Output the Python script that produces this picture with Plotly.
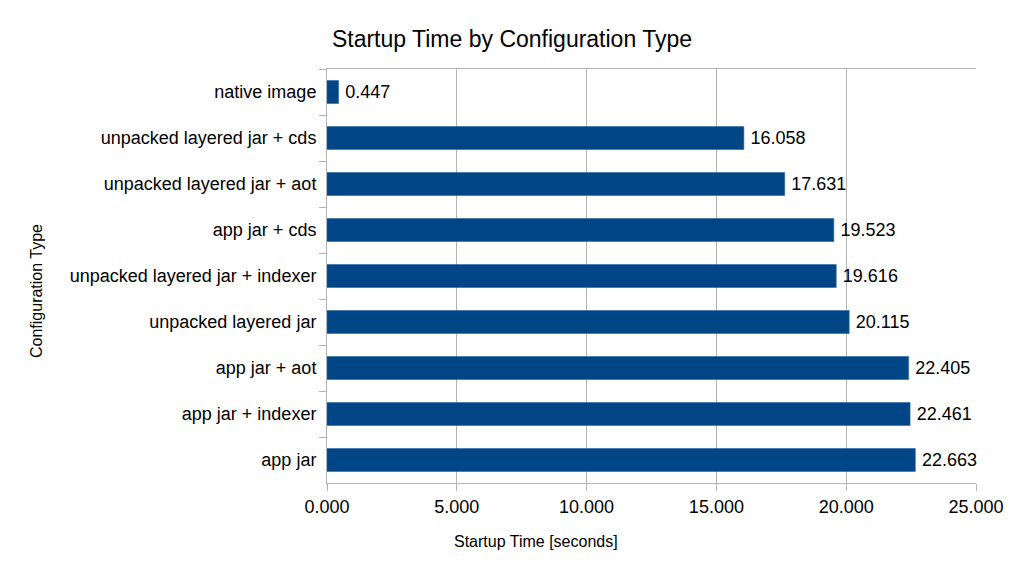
import plotly.graph_objects as go

categories = ["native image", "unpacked layered jar + cds", "unpacked layered jar + aot",
              "app jar + cds", "unpacked layered jar + indexer", "unpacked layered jar",
              "app jar + aot", "app jar + indexer", "app jar"]
startup_times = [0.447, 16.058, 17.631, 19.523, 19.616, 20.115, 22.405, 22.461, 22.663]
x_ticks = [0, 5, 10, 15, 20, 25]

FONT = "Liberation Sans"

fig = go.Figure(go.Bar(
    y=categories, x=startup_times, orientation="h",
    marker=dict(color="#004586", line=dict(color="#2a6aa8", width=0.6)),
    text=["\u2009" + f"{v:.3f}" for v in startup_times], textposition="outside",
    textfont=dict(family=FONT, size=18, color="#000000"),
    cliponaxis=False,
))

fig.update_layout(
    width=1024, height=576,
    paper_bgcolor="white", plot_bgcolor="white",
    margin=dict(l=327, r=48, t=69, b=93),
    bargap=0.5,
    showlegend=False,
    font=dict(family=FONT, size=18, color="#000000"),
    title=dict(text="Startup Time by Configuration Type", x=0.5, xanchor="center",
               y=0.933, yanchor="middle", font=dict(family=FONT, size=23, color="#000000")),
    xaxis=dict(range=[0, 25], tickvals=x_ticks, tickformat=".3f",
               showgrid=True, gridcolor="#b3b3b3", gridwidth=1,
               showline=True, linecolor="#b3b3b3", mirror=True,
               ticks="outside", ticklen=7, tickcolor="#b3b3b3",
               tickfont=dict(family=FONT, size=18, color="#000000"), zeroline=False),
    yaxis=dict(autorange="reversed", tickson="boundaries", ticks="outside", ticklen=7,
               tickcolor="#b3b3b3", showline=True, linecolor="#b3b3b3", showgrid=False,
               tickfont=dict(family=FONT, size=18, color="#000000"), ticklabelstandoff=6),
    annotations=[
        dict(text="Startup Time [seconds]", xref="paper", yref="paper",
             x=(536 - 327) / (976 - 327), y=-(541 - 483) / (483 - 69),
             xanchor="center", yanchor="middle", showarrow=False,
             font=dict(family=FONT, size=16, color="#000000")),
        dict(text="Configuration Type", xref="paper", yref="paper",
             x=-(327 - 36) / (976 - 327), y=(483 - 291) / (483 - 69),
             xanchor="center", yanchor="middle", showarrow=False, textangle=-90,
             font=dict(family=FONT, size=16, color="#000000")),
    ],
)

fig.write_html("out.html", config={"displayModeBar": False},
               post_script="document.body.style.margin='0';")
